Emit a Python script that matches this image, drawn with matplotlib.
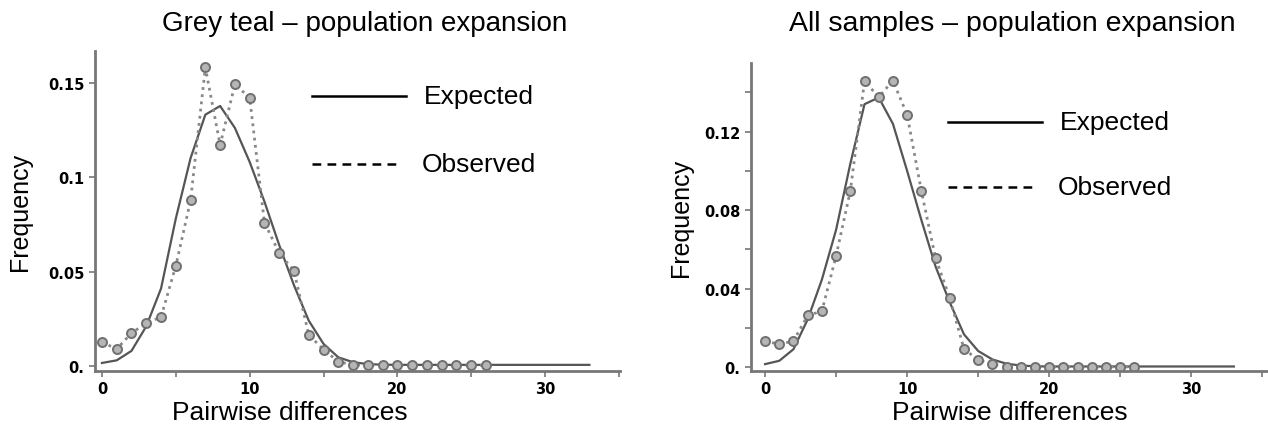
import numpy as np
import matplotlib
matplotlib.use('Agg')
import matplotlib.pyplot as plt

plt.rcParams['font.family'] = ['Liberation Sans', 'DejaVu Sans']

# Pairwise differences
x_obs = np.arange(0, 27)
x_exp = np.arange(0, 34)

# Grey teal
grey_obs = [0.0126, 0.0090, 0.0174, 0.0227, 0.0259, 0.0530, 0.0876, 0.1580, 0.1170,
            0.1490, 0.1420, 0.0759, 0.0598, 0.0502, 0.0165, 0.0087, 0.0023, 0.0005,
            0.0004, 0.0004, 0.0004, 0.0004, 0.0004, 0.0004, 0.0004, 0.0004, 0.0004]
grey_exp = [0.0016, 0.0030, 0.0080, 0.0210, 0.0410, 0.0780, 0.1100, 0.1330, 0.1376,
            0.1260, 0.1080, 0.0870, 0.0640, 0.0427, 0.0240, 0.0117, 0.0046, 0.0020,
            0.0010, 0.0007, 0.0006, 0.0006, 0.0006, 0.0006, 0.0006, 0.0006, 0.0006,
            0.0006, 0.0006, 0.0006, 0.0006, 0.0006, 0.0006, 0.0006]

# All samples
all_obs = [0.0133, 0.0116, 0.0133, 0.0263, 0.0285, 0.0567, 0.0898, 0.1457, 0.1377,
           0.1460, 0.1286, 0.0898, 0.0555, 0.0353, 0.0092, 0.0037, 0.0015, 0.0002,
           0.0001, 0.0001, 0.0001, 0.0001, 0.0001, 0.0001, 0.0001, 0.0001, 0.0001]
all_exp = [0.0015, 0.0032, 0.0091, 0.0243, 0.0446, 0.0700, 0.1036, 0.1340, 0.1374,
           0.1240, 0.1000, 0.0750, 0.0513, 0.0330, 0.0167, 0.0082, 0.0039, 0.0017,
           0.0008, 0.0004, 0.0003, 0.0003, 0.0003, 0.0003, 0.0003, 0.0003, 0.0003,
           0.0003, 0.0003, 0.0003, 0.0003, 0.0003, 0.0003, 0.0003]

W, H = 1268, 431
fig = plt.figure(figsize=(W / 100, H / 100), dpi=100)

tick_font = dict(family='DejaVu Sans', fontweight='bold', fontsize=10.5)


def px_axes(x0, x1, y_top, y_bot):
    return fig.add_axes([x0 / W, 1 - y_bot / H, (x1 - x0) / W, (y_bot - y_top) / H])


def style(ax):
    for s in ['top', 'right']:
        ax.spines[s].set_visible(False)
    for s in ['left', 'bottom']:
        ax.spines[s].set_color('#777777')
        ax.spines[s].set_linewidth(2)
    ax.tick_params(which='both', colors='#777777', length=4, width=1.2, direction='out',
                   labelcolor='black')
    ax.tick_params(axis='x', pad=3)
    ax.set_xticks(np.arange(0, 36, 5))
    ax.set_xticklabels(['0', '', '10', '', '20', '', '30', ''], **tick_font)


def draw(ax, obs, exp):
    ax.plot(x_exp, exp, color='#555555', lw=1.6, solid_joinstyle='round')
    ax.plot(x_obs, obs, color='#888888', lw=2, linestyle=(0, (1, 1.6)),
            marker='o', markersize=6.5, markerfacecolor='#b5b5b5',
            markeredgecolor='#707070', markeredgewidth=1.4)


# Left panel
ax1 = px_axes(95, 620, 52, 372)
draw(ax1, grey_obs, grey_exp)
ax1.set_xlim(-0.47, 35.07)
ax1.set_ylim(-0.00265, 0.1667)
style(ax1)
ax1.set_yticks([0, 0.05, 0.1, 0.15])
ax1.set_yticklabels(['0.', '0.05', '0.1', '0.15'], **tick_font)
ax1.set_ylabel('Frequency', fontsize=18, labelpad=12)

# Right panel
ax2 = px_axes(751, 1268, 64, 372)
draw(ax2, all_obs, all_exp)
ax2.set_xlim(-0.99, 35.4)
ax2.set_ylim(-0.002, 0.155)
style(ax2)
ax2.set_yticks([0, 0.04, 0.08, 0.12])
ax2.set_yticklabels(['0.', '0.04', '0.08', '0.12'], **tick_font)
ax2.set_yticks([0.02, 0.06, 0.10, 0.14], minor=True)
ax2.set_ylabel('Frequency', fontsize=18, labelpad=8)

# Titles and x labels placed at figure pixel positions
fig.text(365 / W, 1 - 24 / H, 'Grey teal \u2013 population expansion', fontsize=20,
         ha='center', va='center')
fig.text(1012 / W, 1 - 24 / H, 'All samples \u2013 population expansion', fontsize=20.5,
         ha='center', va='center')
fig.text(290 / W, 1 - 413 / H, 'Pairwise differences', fontsize=19, ha='center', va='center')
fig.text(1010 / W, 1 - 413 / H, 'Pairwise differences', fontsize=19, ha='center', va='center')


# Legends drawn as plain text and line samples (figure pixel positions)
def legend(xs, y_exp, y_obs):
    fig.add_artist(plt.Line2D([xs / W, (xs + 94) / W], [1 - y_exp / H, 1 - y_exp / H],
                              color='black', lw=1.8))
    fig.add_artist(plt.Line2D([xs / W, (xs + 90) / W], [1 - y_obs / H, 1 - y_obs / H],
                              color='black', lw=1.8, linestyle=(0, (3.5, 2.5))))
    fig.text((xs + 112) / W, 1 - y_exp / H, 'Expected', fontsize=19, va='center')
    fig.text((xs + 110) / W, 1 - y_obs / H, 'Observed', fontsize=19, va='center')


legend(312, 97, 165)
legend(948, 123, 188)

fig.savefig('out.png', dpi=100)
